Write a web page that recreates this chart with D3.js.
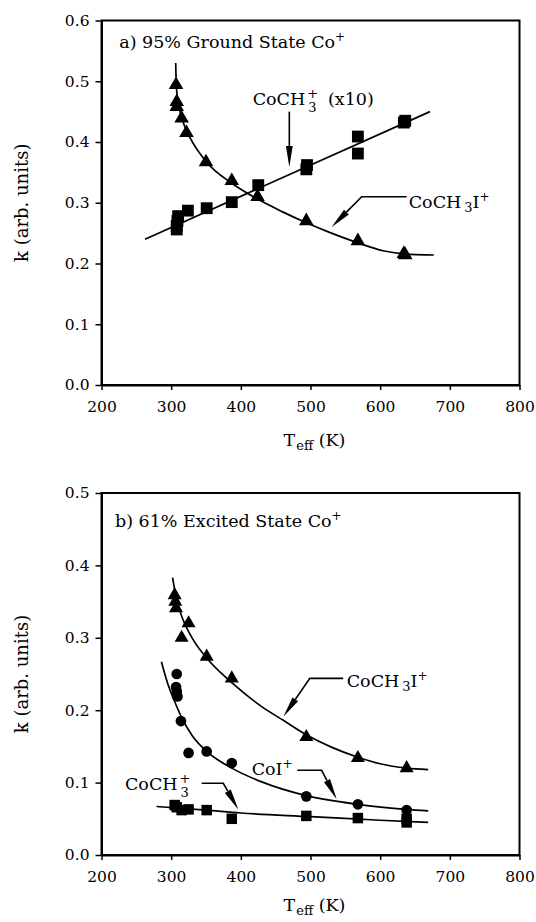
<!DOCTYPE html>
<html>
<head>
<meta charset="utf-8">
<script src="https://cdn.jsdelivr.net/npm/d3@7"></script>
<style>
  body { margin: 0; background: #fff; }
  svg { display: block; }
  text { font-family: "DejaVu Serif", serif; fill: #000; }
</style>
</head>
<body>
<svg id="chart" width="536" height="922"></svg>
<script>
// ---------- data ----------
const xTicks = [200, 300, 400, 500, 600, 700, 800];
const yTicksA = [0.0, 0.1, 0.2, 0.3, 0.4, 0.5, 0.6];
const yTicksB = [0.0, 0.1, 0.2, 0.3, 0.4, 0.5];

// panel a) 95% ground state Co+
const aTriT = [307, 308, 308, 315, 322, 350, 387, 424, 494, 568, 634, 636];
const aTriK = [0.494, 0.466, 0.458, 0.439, 0.415, 0.367, 0.336, 0.310, 0.270, 0.237, 0.216, 0.214];
const aSqT  = [308, 308, 309, 310, 324, 351, 387, 425, 494, 495, 568, 568, 634, 636];
const aSqK  = [0.256, 0.262, 0.270, 0.278, 0.287, 0.291, 0.301, 0.329, 0.355, 0.362, 0.381, 0.409, 0.432, 0.435];
const aTriFitT = [306.5, 307.5, 311, 318, 328, 350, 387, 424, 460, 494, 530, 568, 604, 634, 677];
const aTriFitK = [0.530, 0.490, 0.460, 0.430, 0.405, 0.368, 0.332, 0.306, 0.285, 0.267, 0.250, 0.234, 0.221, 0.216, 0.214];
const aSqFitT = [262.5, 671.5];
const aSqFitK = [0.240, 0.450];

// panel b) 61% excited state Co+
const bTriT = [305, 306, 307, 315, 325, 351, 387, 494, 568, 638];
const bTriK = [0.359, 0.350, 0.341, 0.300, 0.320, 0.274, 0.244, 0.163, 0.134, 0.120];
const bCirT = [308, 307, 308, 309, 314, 325, 351, 387, 494, 568, 638];
const bCirK = [0.250, 0.232, 0.226, 0.219, 0.185, 0.141, 0.143, 0.127, 0.081, 0.070, 0.062];
const bSqT  = [305, 308, 315, 325, 351, 387, 494, 568, 638, 638];
const bSqK  = [0.069, 0.066, 0.062, 0.063, 0.062, 0.050, 0.054, 0.051, 0.045, 0.050];
const bTriFitT = [302, 308, 315, 330, 351, 387, 430, 461, 494, 530, 568, 600, 638, 669];
const bTriFitK = [0.383, 0.352, 0.330, 0.300, 0.272, 0.238, 0.205, 0.186, 0.166, 0.149, 0.135, 0.126, 0.120, 0.118];
const bCirFitT = [286, 295, 305, 315, 330, 351, 387, 430, 494, 568, 638, 669];
const bCirFitK = [0.267, 0.237, 0.212, 0.190, 0.165, 0.143, 0.120, 0.101, 0.082, 0.070, 0.063, 0.061];
const bSqFitT = [279, 350, 400, 500, 600, 669];
const bSqFitK = [0.067, 0.062, 0.058, 0.053, 0.048, 0.045];

// annotation leader lines, in data units [T, k]
const aArrowCH3 = [[469.6, 0.450], [469.6, 0.359]];
const aArrowCH3I = [[638, 0.310], [573.5, 0.310], [530.4, 0.260]];
const bArrowCH3I = [[547, 0.244], [499, 0.244], [461, 0.191]];
const bArrowCoI = [[481, 0.117], [516, 0.117], [537.6, 0.077]];
const bArrowCH3 = [[343.8, 0.099], [374.8, 0.099], [396.4, 0.063]];

// ---------- drawing ----------
const svg = d3.select("#chart");
const xRange = [101.5, 519.5];

function zip(a, b) { return a.map((v, i) => [v, b[i]]); }

function panel(opts) {
  const g = svg.append("g");
  const x = d3.scaleLinear().domain([200, 800]).range(xRange);
  const y = d3.scaleLinear().domain(opts.yDomain).range(opts.yRange);

  // frame
  g.append("rect")
    .attr("x", x(200)).attr("y", y(opts.yDomain[1]))
    .attr("width", x(800) - x(200)).attr("height", y(0) - y(opts.yDomain[1]))
    .attr("fill", "none").attr("stroke", "#000").attr("stroke-width", 2);

  const xAxis = d3.axisBottom(x).tickValues(xTicks).tickFormat(d3.format("d")).tickSize(5).tickSizeOuter(0).tickPadding(11);
  const gx = g.append("g").attr("transform", `translate(0,${y(0)})`).call(xAxis);
  const yAxis = d3.axisLeft(y).tickValues(opts.yTicks).tickFormat(d3.format(".1f")).tickSize(6).tickSizeOuter(0).tickPadding(6);
  const gy = g.append("g").attr("transform", `translate(${x(200)},0)`).call(yAxis);
  [gx, gy].forEach(a => {
    a.select(".domain").attr("stroke", "#000").attr("stroke-width", 2);
    a.selectAll(".tick line").attr("stroke", "#000").attr("stroke-width", 1.5);
    a.selectAll(".tick text").attr("font-family", "DejaVu Serif").attr("font-size", 15.5).attr("fill", "#000");
  });

  // axis titles
  const xt = g.append("text")
    .attr("x", (xRange[0] + xRange[1]) / 2 + 4).attr("y", y(0) + opts.xTitleOffset)
    .attr("text-anchor", "middle").attr("font-size", 17.5);
  xt.append("tspan").text("T");
  xt.append("tspan").text("eff").attr("font-size", 13).attr("dy", 4).attr("dx", 1);
  xt.append("tspan").text(" (K)").attr("dy", -4);

  g.append("text")
    .attr("transform", `translate(28,${(y(0) + y(opts.yDomain[1])) / 2}) rotate(-90)`)
    .attr("text-anchor", "middle").attr("font-size", 18)
    .text("k (arb. units)");

  // panel title
  const tt = g.append("text").attr("x", x(opts.title.T)).attr("y", y(opts.title.k)).attr("font-size", 17.5);
  tt.append("tspan").text(opts.title.text);
  tt.append("tspan").text("+").attr("font-size", 12).attr("dy", -7);

  // fits
  const line = d3.line().x(d => x(d[0])).y(d => y(d[1])).curve(d3.curveMonotoneX);
  opts.fits.forEach(f => {
    g.append("path").attr("d", line(f)).attr("fill", "none")
      .attr("stroke", "#000").attr("stroke-width", 1.7);
  });

  // markers
  opts.marks.forEach(m => {
    g.selectAll(null).data(m.data).join("path")
      .attr("transform", d => `translate(${x(d[0])},${y(d[1])})`)
      .attr("d", d3.symbol().type(m.type).size(m.size)())
      .attr("fill", "#000");
  });

  // leader arrows
  opts.arrows.forEach(pts => {
    const p = pts.map(d => [x(d[0]), y(d[1])]);
    const tip = p[p.length - 1], prev = p[p.length - 2];
    const ang = Math.atan2(tip[1] - prev[1], tip[0] - prev[0]);
    const L = 21, W = 3.4;
    const bx = tip[0] - L * Math.cos(ang), by = tip[1] - L * Math.sin(ang);
    const shaft = p.slice(0, -1).concat([[bx, by]]);
    g.append("path").attr("d", d3.line()(shaft)).attr("fill", "none").attr("stroke", "#000").attr("stroke-width", 1.6);
    const nx = -Math.sin(ang), ny = Math.cos(ang);
    g.append("path")
      .attr("d", d3.line()([[tip[0], tip[1]], [bx + nx * W, by + ny * W], [bx - nx * W, by - ny * W]]) + "Z")
      .attr("fill", "#000");
  });

  return { g, x, y };
}

// ----- panel a -----
const A = panel({
  yDomain: [0, 0.6], yRange: [385, 20.5], yTicks: yTicksA, xTitleOffset: 61,
  title: { T: 225.5, k: 0.555, text: "a)  95% Ground State Co" },
  fits: [zip(aTriFitT, aTriFitK), zip(aSqFitT, aSqFitK)],
  marks: [
    { data: zip(aTriT, aTriK), type: d3.symbolTriangle, size: 92 },
    { data: zip(aSqT, aSqK), type: d3.symbolSquare, size: 140 }
  ],
  arrows: [aArrowCH3, aArrowCH3I]
});

function ch3Label(g, px, py, extra) {
  const t = g.append("text").attr("x", px).attr("y", py).attr("font-size", 17.5);
  t.append("tspan").text("CoCH");
  t.append("tspan").text("+").attr("font-size", 13).attr("dx", 2).attr("dy", -7);
  t.append("tspan").text("3").attr("font-size", 13).attr("dx", -10).attr("dy", 14);
  if (extra) t.append("tspan").text(extra).attr("dy", -7).attr("dx", 6);
}
function ch3iLabel(g, px, py) {
  const t = g.append("text").attr("x", px).attr("y", py).attr("font-size", 17.5);
  t.append("tspan").text("CoCH");
  t.append("tspan").text("3").attr("font-size", 13).attr("dx", 3).attr("dy", 4);
  t.append("tspan").text("I").attr("dy", -4);
  t.append("tspan").text("+").attr("font-size", 12).attr("dy", -7);
}

ch3Label(A.g, A.x(417), A.y(0.461), " (x10)");
ch3iLabel(A.g, A.x(641), A.y(0.291));

// ----- panel b -----
const B = panel({
  yDomain: [0, 0.5], yRange: [855, 493], yTicks: yTicksB, xTitleOffset: 56,
  title: { T: 219.4, k: 0.4535, text: "b) 61% Excited State Co" },
  fits: [zip(bTriFitT, bTriFitK), zip(bCirFitT, bCirFitK), zip(bSqFitT, bSqFitK)],
  marks: [
    { data: zip(bTriT, bTriK), type: d3.symbolTriangle, size: 85 },
    { data: zip(bCirT, bCirK), type: d3.symbolCircle, size: 90 },
    { data: zip(bSqT, bSqK), type: d3.symbolSquare, size: 110 }
  ],
  arrows: [bArrowCH3I, bArrowCoI, bArrowCH3]
});

ch3iLabel(B.g, B.x(552), B.y(0.2325));
{
  const t = B.g.append("text").attr("x", B.x(415.6)).attr("y", B.y(0.1105)).attr("font-size", 17.5);
  t.append("tspan").text("CoI");
  t.append("tspan").text("+").attr("font-size", 12).attr("dy", -7);
}
ch3Label(B.g, B.x(233.7), B.y(0.0898));
</script>
</body>
</html>
